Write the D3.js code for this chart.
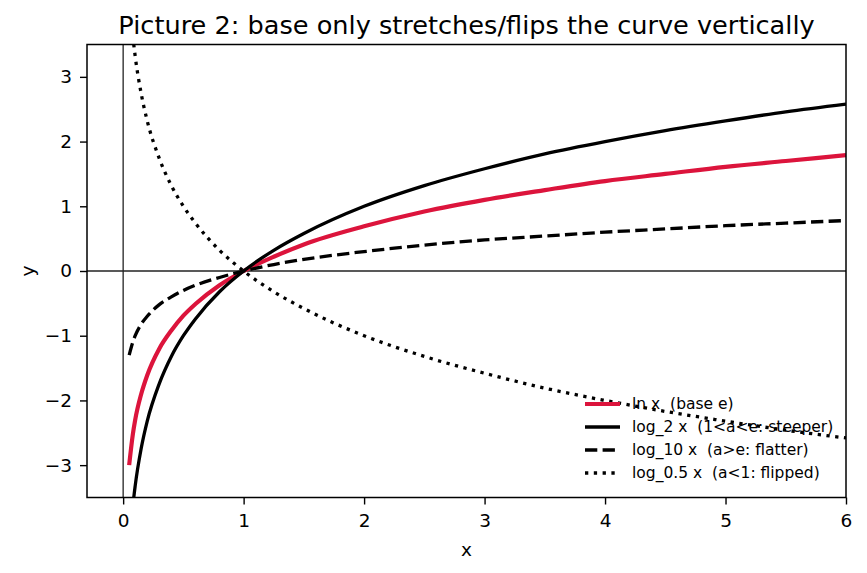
<!DOCTYPE html>
<html>
<head>
<meta charset="utf-8">
<script src="https://cdn.jsdelivr.net/npm/d3@7"></script>
<style>
  body { margin: 0; background: #fff; }
  svg { display: block; font-family: "DejaVu Sans", sans-serif; }
</style>
</head>
<body>
<svg id="chart" width="867" height="573"></svg>
<script>
// sample x positions
var xs = [0.05, 0.08, 0.1, 0.15, 0.2, 0.3, 0.4, 0.5, 0.6, 0.8, 1, 1.25, 1.5, 2, 2.5, 3, 3.5, 4, 4.5, 5, 5.5, 6]

var lnY = [-3.00, -2.53, -2.30, -1.90, -1.61, -1.20, -0.92, -0.69, -0.51, -0.22, 0, 0.22, 0.41, 0.69, 0.92, 1.10, 1.25, 1.39, 1.50, 1.61, 1.70, 1.79]
var log2Y = [-4.32, -3.64, -3.32, -2.74, -2.32, -1.74, -1.32, -1.00, -0.74, -0.32, 0, 0.32, 0.58, 1.00, 1.32, 1.58, 1.81, 2.00, 2.17, 2.32, 2.46, 2.58]
var log10Y = [-1.30, -1.10, -1.00, -0.82, -0.70, -0.52, -0.40, -0.30, -0.22, -0.10, 0, 0.10, 0.18, 0.30, 0.40, 0.48, 0.54, 0.60, 0.65, 0.70, 0.74, 0.78]
var logHalfY = [4.32, 3.64, 3.32, 2.74, 2.32, 1.74, 1.32, 1.00, 0.74, 0.32, 0, -0.32, -0.58, -1.00, -1.32, -1.58, -1.81, -2.00, -2.17, -2.32, -2.46, -2.58]

var seriesNames = ['ln x  (base e)', 'log_2 x  (1<a<e: steeper)', 'log_10 x  (a>e: flatter)', 'log_0.5 x  (a<1: flipped)']
var xTicks = [0, 1, 2, 3, 4, 5, 6]
var yTicks = [-3, -2, -1, 0, 1, 2, 3]

var series = [
  { name: seriesNames[0], ys: lnY, color: '#dc143c', width: 4.2, dash: null },
  { name: seriesNames[1], ys: log2Y, color: '#000', width: 3.3, dash: null },
  { name: seriesNames[2], ys: log10Y, color: '#000', width: 3.3, dash: '12.3,5.3' },
  { name: seriesNames[3], ys: logHalfY, color: '#000', width: 3.3, dash: '3.3,5.5' }
]

var margin = { left: 87, right: 21, top: 44.5, bottom: 75.5 }
var svg = d3.select('#chart')
var width = 867 - margin.left - margin.right
var height = 573 - margin.top - margin.bottom

var x = d3.scaleLinear().domain([-0.3, 6]).range([0, width])
var y = d3.scaleLinear().domain([-3.5, 3.5]).range([height, 0])

var g = svg.append('g')
  .attr('id', 'graph-g')
  .attr('transform', 'translate(' + margin.left + ',' + margin.top + ')')

g.append('clipPath').attr('id', 'clip')
  .append('rect').attr('width', width).attr('height', height)

var plot = g.append('g').attr('clip-path', 'url(#clip)')

// reference lines through the origin
plot.append('line')
  .attr('x1', 0).attr('x2', width)
  .attr('y1', y(0)).attr('y2', y(0))
  .attr('stroke', '#222').attr('stroke-width', 1.3)
plot.append('line')
  .attr('x1', x(0)).attr('x2', x(0))
  .attr('y1', 0).attr('y2', height)
  .attr('stroke', '#222').attr('stroke-width', 1.3)

var line = d3.line()
  .x(function (d) { return x(d[0]) })
  .y(function (d) { return y(d[1]) })
  .curve(d3.curveMonotoneX)

plot.selectAll('.curve')
  .data(series).join('path')
  .attr('class', 'curve')
  .attr('fill', 'none')
  .attr('stroke', d => d.color)
  .attr('stroke-width', d => d.width)
  .attr('stroke-dasharray', d => d.dash)
  .attr('d', d => line(xs.map((v, i) => [v, d.ys[i]])))

// axes
var xAxis = g.append('g')
  .attr('transform', 'translate(0,' + height + ')')
  .call(d3.axisBottom(x).tickValues(xTicks).tickSize(7).tickPadding(9).tickFormat(d3.format('d')))
var yAxis = g.append('g')
  .call(d3.axisLeft(y).tickValues(yTicks).tickSize(7).tickPadding(8)
    .tickFormat(d => d < 0 ? '\u2212' + Math.abs(d) : d))

;[xAxis, yAxis].forEach(function (a) {
  a.select('.domain').remove()
  a.selectAll('.tick line').attr('stroke', '#000').attr('stroke-width', 1.4)
  a.selectAll('.tick text').attr('fill', '#000').style('font-size', '18.5px')
    .style('font-family', '"DejaVu Sans", sans-serif')
})

g.append('rect')
  .attr('width', width).attr('height', height)
  .attr('fill', 'none').attr('stroke', '#000').attr('stroke-width', 1.5)

// labels
svg.append('text')
  .attr('x', margin.left + width / 2).attr('y', 34)
  .attr('text-anchor', 'middle')
  .style('font-size', '25.6px')
  .text('Picture 2: base only stretches/flips the curve vertically')

svg.append('text')
  .attr('x', margin.left + width / 2).attr('y', 556)
  .attr('text-anchor', 'middle')
  .style('font-size', '18.5px')
  .text('x')

svg.append('text')
  .attr('transform', 'translate(34,' + (margin.top + height / 2) + ') rotate(-90)')
  .attr('text-anchor', 'middle')
  .style('font-size', '18.5px')
  .text('y')

// legend, no frame
var legend = svg.append('g').attr('transform', 'translate(585,404)')
var items = legend.selectAll('.item')
  .data(series).join('g')
  .attr('class', 'item')
  .attr('transform', (d, i) => 'translate(0,' + (i * 23) + ')')
items.append('line')
  .attr('x1', 0).attr('x2', 35)
  .attr('stroke', d => d.color)
  .attr('stroke-width', d => d.width)
  .attr('stroke-dasharray', d => d.dash)
items.append('text')
  .attr('x', 47).attr('dy', '0.35em')
  .attr('xml:space', 'preserve')
  .style('white-space', 'pre')
  .style('font-size', '15.5px')
  .text(d => d.name)
</script>
</body>
</html>
